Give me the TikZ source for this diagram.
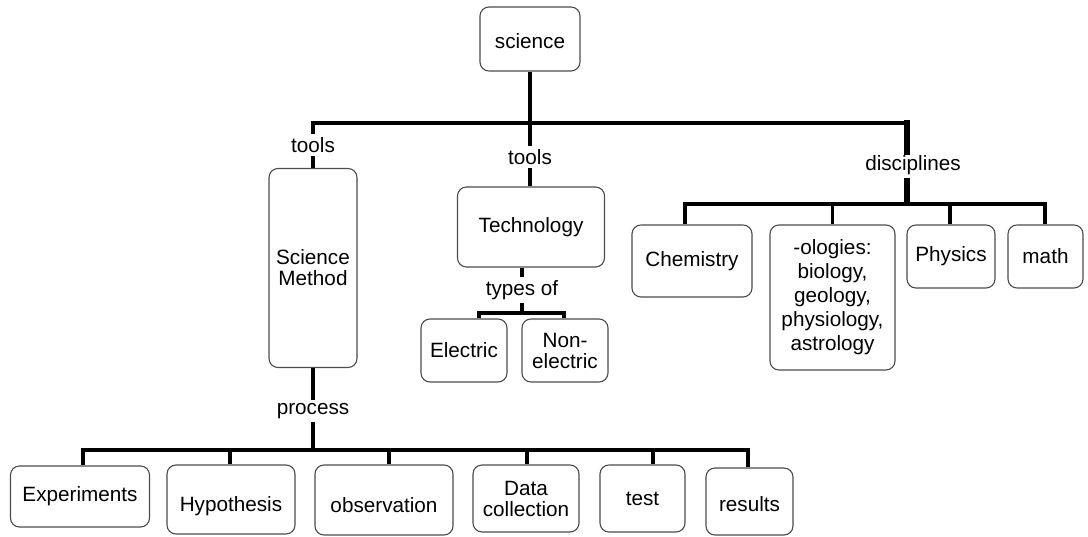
\documentclass[tikz,border=0pt]{standalone}
\usepackage{fontspec}
\setmainfont{Liberation Sans}
\newcommand\dfont{\fontsize{20.7}{20}\selectfont}
\newcommand\lowr[2]{\raisebox{-#1}[0.72em][0.21em]{#2}}
\begin{document}
\begin{tikzpicture}[x=1pt,y=-1pt,
  box/.style={draw=black!70, line width=1.1pt, rounded corners=9pt, align=center, inner sep=2pt, font=\dfont},
  lbl/.style={inner sep=3pt, font=\dfont},
  conn/.style={line width=3.5pt, line join=miter}]
\useasboundingbox (0,0) rectangle (1088,536);

% boxes
\node[box, minimum width=100pt, minimum height=64pt] (science) at (530,39) {\lowr{4pt}{science}};
\node[box, minimum width=88pt, minimum height=199pt, font=\fontsize{20.7}{21}\selectfont] (scimethod) at (313,268) {Science\\Method};
\node[box, minimum width=147pt, minimum height=80pt] (tech) at (531,227) {Technology};
\node[box, minimum width=86pt, minimum height=63pt] (elec) at (464,350.5) {Electric};
\node[box, minimum width=86pt, minimum height=63pt, font=\fontsize{20.7}{21}\selectfont] (nonelec) at (565,350.5) {Non-\\electric};
\node[box, minimum width=120pt, minimum height=72pt] (chem) at (692,261) {Chemistry};
\node[box, minimum width=125pt, minimum height=145pt, font=\fontsize{20.7}{24}\selectfont] (ologies) at (832.5,297.5) {-ologies:\\biology,\\geology,\\physiology,\\astrology};
\node[box, minimum width=88pt, minimum height=63pt] (physics) at (951,256.5) {Physics};
\node[box, minimum width=75pt, minimum height=63pt] (math) at (1045.5,256.5) {math};
\node[box, minimum width=139pt, minimum height=61pt] (exp) at (80,496.5) {Experiments};
\node[box, minimum width=128pt, minimum height=69pt] (hyp) at (231,499.5) {\lowr{7pt}{Hypothesis}};
\node[box, minimum width=138pt, minimum height=70pt] (obs) at (384,500) {\lowr{7pt}{observation}};
\node[box, minimum width=106pt, minimum height=67pt, font=\fontsize{20.7}{21}\selectfont] (data) at (526,498.5) {Data\\collection};
\node[box, minimum width=85pt, minimum height=67pt] (test) at (642.5,498.5) {test};
\node[box, minimum width=87pt, minimum height=67pt] (results) at (749.5,501.5) {\lowr{5pt}{results}};

% labels
\node[lbl] (toolsL) at (313,145) {tools};
\node[lbl] (toolsM) at (530,157) {tools};
\node[lbl] (disc) at (913,165) {disciplines};
\node[lbl] (types) at (522,290) {types of};
\node[lbl] (process) at (313,411) {process};

% junctions
\coordinate (top) at (530,123);
\coordinate (topL) at (313,123);
\coordinate (topR) at (907,123);
\coordinate (dbar) at (907,204);
\coordinate (tbar) at (522,313);
\coordinate (pbar) at (313,450);

% top level
\draw[conn] (science) -- (top);
\draw[conn] (toolsL) -- (topL) -- (topR);
\draw[conn] (top) -- (toolsM);
\draw[conn] (toolsM) -- (toolsM |- tech.north);
\draw[line width=6pt, line cap=rect] (topR) -- (topR |- disc.north);
\draw[line width=6pt] (topR |- disc.south) -- (dbar);
\draw[conn] (toolsL) -- (scimethod);

% disciplines
\draw[conn] ([xshift=-7pt]chem.north) |- (dbar) -| ([xshift=-0.5pt]math.north);
\draw[conn] (ologies.north) -- (ologies.north |- dbar);
\draw[conn] ([xshift=-1pt]physics.north) -- ([xshift=-1pt]physics.north |- dbar);

% technology
\draw[conn] (tech.south -| types) -- (types);
\draw[conn] (types) -- (tbar);
\draw[conn] ([xshift=15pt]elec.north) |- (tbar) -| ([xshift=-1pt]nonelec.north);

% science method
\draw[conn] (scimethod) -- (process);
\draw[conn] (process) -- (pbar);
\draw[conn] ([xshift=3pt]exp.north) |- (pbar) -| ([xshift=-1.5pt]results.north);
\draw[conn] ([xshift=-1pt]hyp.north) -- ([xshift=-1pt]hyp.north |- pbar);
\draw[conn] ([xshift=5pt]obs.north) -- ([xshift=5pt]obs.north |- pbar);
\draw[conn] ([xshift=1pt]data.north) -- ([xshift=1pt]data.north |- pbar);
\draw[conn] ([xshift=10.5pt]test.north) -- ([xshift=10.5pt]test.north |- pbar);
\end{tikzpicture}
\end{document}
